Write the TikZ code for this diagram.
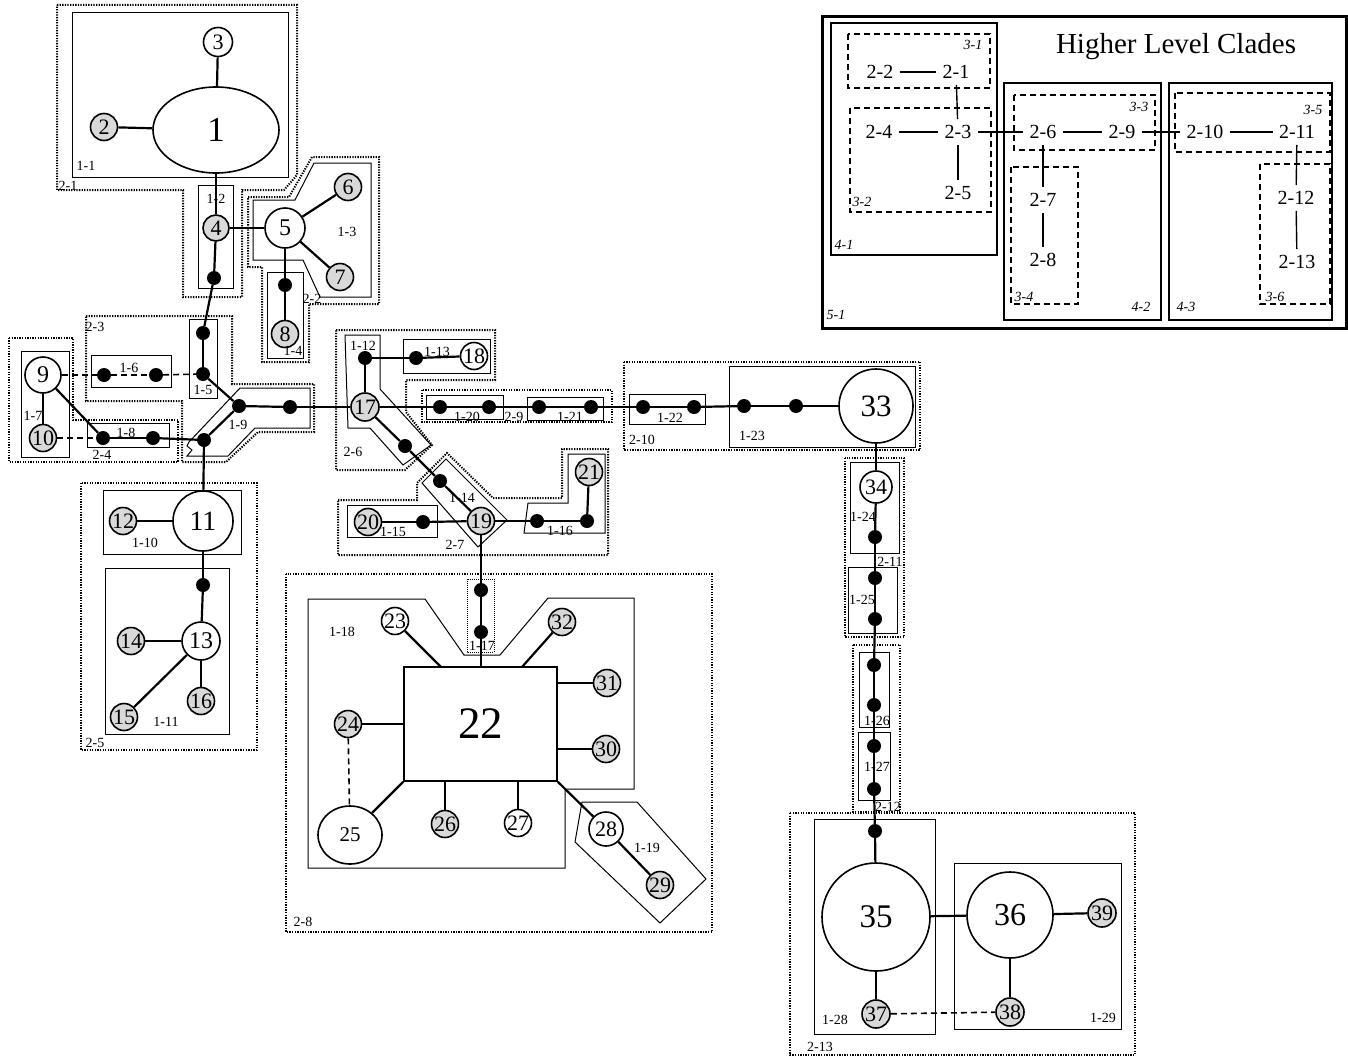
\documentclass[tikz,border=0pt]{standalone}
\usepackage{fontspec}
\setmainfont{Liberation Serif}
\usetikzlibrary{shapes.geometric}
\begin{document}
\begin{tikzpicture}[x=1pt,y=-1pt,
  hap/.style={circle,draw,line width=1.6pt,inner sep=0pt,fill=white,font=\fontsize{22}{22}\selectfont},
  sm/.style={hap,minimum size=27pt},
  gr/.style={fill=gray!30},
  snp/.style={circle,fill=black,inner sep=0pt,minimum size=14pt},
  cn/.style={line width=2.2pt},
  dcn/.style={line width=1.6pt,dash pattern=on 6pt off 4pt},
  cbox/.style={draw,line width=1pt},
  dbox/.style={draw,line width=2pt,dash pattern=on 1.3pt off 1.3pt},
  lab/.style={inner sep=0pt,font=\fontsize{14}{14}\selectfont},
  ilab/.style={inner sep=0pt,font=\fontsize{14}{14}\selectfont\itshape},
  ins/.style={inner sep=6pt,font=\fontsize{20}{20}\selectfont},
  ibox/.style={draw,line width=1.5pt},
  idbox/.style={draw,line width=1.5pt,dash pattern=on 6pt off 4pt},
  icn/.style={line width=1.4pt}
]
\useasboundingbox (0,0) rectangle (1348,1057);
\fill[white] (0,0) rectangle (1348,1057);

% ---------- 2-step (dotted) clades ----------
\draw[dbox] (57,5) -- (297,5) -- (297,175) -- (284,190) -- (242,190) -- (242,297) -- (183,297) -- (183,190) -- (57,190) -- cycle;
\draw[dbox] (248,197) -- (289,197) -- (312,157) -- (379,157) -- (379,304) -- (309,304) -- (309,362) -- (262,362) -- (262,267) -- (248,267) -- cycle;
\draw[dbox] (86,316) -- (232,316) -- (232,384) -- (314,384) -- (314,432) -- (258,432) -- (226,462) -- (182,462) -- (182,401) -- (86,401) -- cycle;
\draw[dbox] (9,338) -- (73,338) -- (73,420) -- (178,420) -- (178,462) -- (9,462) -- cycle;
\draw[dbox] (81,483) rectangle (257,750);
\draw[dbox] (336,330) -- (495,330) -- (495,380) -- (406,380) -- (406,412) -- (432,445) -- (405,470) -- (336,470) -- cycle;
\draw[dbox] (338,500) -- (417,500) -- (417,483) -- (447,453) -- (493,498) -- (562,498) -- (562,449) -- (608,449) -- (608,555) -- (338,555) -- cycle;
\draw[dbox] (286,574) rectangle (712,932);
\draw[dbox] (422,390) rectangle (612,422);
\draw[dbox] (624,362) rectangle (920,450);
\draw[dbox] (845,458) rectangle (904,637);
\draw[dbox] (853,645) rectangle (900,812);
\draw[dbox] (790,813) rectangle (1135,1055);

% ---------- 1-step (solid) clades ----------
\draw[cbox] (72,13) rectangle (288,177);
\draw[cbox] (198,185) rectangle (233,288);
\draw[cbox] (253,200) -- (295,200) -- (314,163) -- (371,163) -- (371,297) -- (320,297) -- (303,260) -- (253,260) -- cycle;
\draw[cbox] (267,272) rectangle (303,358);
\draw[cbox] (189,319) rectangle (217,398);
\draw[cbox] (91,355) rectangle (171,387);
\draw[cbox] (21,351) rectangle (69,457);
\draw[cbox] (87,423) rectangle (169,447);
\draw[cbox] (240,388) -- (310,388) -- (310,428) -- (255,428) -- (228,456) -- (187,456) -- (192,450) -- (187,446) -- (189,442) -- cycle;
\draw[cbox] (103,490) rectangle (241,554);
\draw[cbox] (105,568) rectangle (229,734);
\draw[cbox] (345,335) -- (380,335) -- (380,389) -- (431,445) -- (403,465) -- (370,428) -- (348,428) -- cycle;
\draw[cbox] (403,339) rectangle (490,373);
\draw[cbox] (422,483) -- (446,459) -- (507,520) -- (478,547) -- cycle;
\draw[cbox] (347,505) rectangle (437,537);
\draw[cbox] (528,503) -- (568,503) -- (568,454) -- (605,454) -- (605,533) -- (524,533) -- cycle;
\draw[line width=1pt,dash pattern=on 1pt off 1pt] (467,579) rectangle (494,652);
\draw[cbox] (308,599) -- (425,599) -- (464,655) -- (500,655) -- (548,598) -- (634,598) -- (634,789) -- (565,789) -- (565,868) -- (308,868) -- cycle;
\draw[cbox] (582,802) -- (637,802) -- (706,879) -- (660,923) -- (575,842) -- cycle;
\draw[cbox] (426,395) rectangle (503,419);
\draw[cbox] (527,397) rectangle (603,420);
\draw[cbox] (629,394) rectangle (705,424);
\draw[cbox] (729,366) rectangle (915,447);
\draw[cbox] (850,462) rectangle (899,553);
\draw[cbox] (848,567) rectangle (897,633);
\draw[cbox] (859,652) rectangle (889,727);
\draw[cbox] (858,732) rectangle (890,800);
\draw[cbox] (814,819) rectangle (935,1034);
\draw[cbox] (954,863) rectangle (1121,1029);

% ---------- haplotypes ----------
\node[ellipse,draw,line width=1.6pt,inner sep=0pt,minimum width=126pt,minimum height=86pt,fill=white,font=\fontsize{35}{35}\selectfont] (n1) at (216,130) {1};
\node[sm,gr] (n2) at (104,127) {2};
\node[sm,minimum size=29pt] (n3) at (218,42) {3};
\node[sm,gr,minimum size=26pt] (n4) at (216,228) {4};
\node[hap,minimum size=40pt,font=\fontsize{24}{24}\selectfont] (n5) at (285,228) {5};
\node[sm,gr] (n6) at (348,187) {6};
\node[sm,gr] (n7) at (340,277) {7};
\node[sm,gr] (n8) at (285,334) {8};
\node[hap,minimum size=36pt,font=\fontsize{24}{24}\selectfont] (n9) at (43,375) {9};
\node[sm,gr] (n10) at (43,438) {10};
\node[hap,minimum size=60pt,font=\fontsize{28}{28}\selectfont] (n11) at (203,521) {11};
\node[sm,gr] (n12) at (123,521) {12};
\node[hap,minimum size=38pt,font=\fontsize{24}{24}\selectfont] (n13) at (201,641) {13};
\node[sm,gr] (n14) at (131,641) {14};
\node[sm,gr] (n15) at (124,717) {15};
\node[sm,gr] (n16) at (201,701) {16};
\node[sm,gr,minimum size=28pt] (n17) at (365,407) {17};
\node[sm] (n18) at (474,356) {18};
\node[sm,gr] (n19) at (481,521) {19};
\node[sm,gr] (n20) at (368,522) {20};
\node[sm,gr] (n21) at (589,472) {21};
\node[draw,rectangle,line width=1.6pt,minimum width=153pt,minimum height=114pt,fill=white,font=\fontsize{45}{45}\selectfont] (n22) at (480.5,724) {22};
\node[sm] (n23) at (395,621) {23};
\node[sm,gr] (n24) at (348,724) {24};
\node[ellipse,draw,line width=1.6pt,inner sep=0pt,minimum width=64pt,minimum height=58pt,fill=white,font=\fontsize{21}{21}\selectfont] (n25) at (350,835) {25};
\node[sm,gr] (n26) at (445,824) {26};
\node[sm] (n27) at (518,823) {27};
\node[hap,minimum size=34pt] (n28) at (606,829) {28};
\node[sm,gr] (n29) at (660,885) {29};
\node[sm,gr] (n30) at (606,749) {30};
\node[sm,gr] (n31) at (607,683) {31};
\node[sm,gr] (n32) at (562,622) {32};
\node[hap,minimum size=74pt,font=\fontsize{31}{31}\selectfont] (n33) at (876,406) {33};
\node[hap,minimum size=32pt] (n34) at (876,487) {34};
\node[hap,minimum size=108pt,font=\fontsize{33}{33}\selectfont] (n35) at (876,917) {35};
\node[hap,minimum size=86pt,font=\fontsize{32}{32}\selectfont] (n36) at (1010,915) {36};
\node[sm,gr,minimum size=28pt] (n37) at (876,1014) {37};
\node[sm,gr,minimum size=28pt] (n38) at (1010,1012) {38};
\node[sm,gr,minimum size=28pt] (n39) at (1102,913) {39};

% ---------- missing intermediates ----------
\node[snp] (d1) at (214,278) {};
\node[snp] (d2) at (203,333) {};
\node[snp] (d3) at (203,374) {};
\node[snp] (d4) at (239,406) {};
\node[snp] (d5) at (290,407) {};
\node[snp] (d6) at (204,440) {};
\node[snp] (d7) at (285,285) {};
\node[snp] (d8) at (104,375) {};
\node[snp] (d9) at (156,375) {};
\node[snp] (d10) at (103,438) {};
\node[snp] (d11) at (153,438) {};
\node[snp] (d12) at (203,585) {};
\node[snp] (d13) at (365,358) {};
\node[snp] (d14) at (416,358) {};
\node[snp] (d15) at (405,446) {};
\node[snp] (d16) at (440,481) {};
\node[snp] (d17) at (423,522) {};
\node[snp] (d18) at (537,521) {};
\node[snp] (d19) at (587,521) {};
\node[snp] (d20) at (440,407) {};
\node[snp] (d21) at (489,407) {};
\node[snp] (d22) at (539,407) {};
\node[snp] (d23) at (591,407) {};
\node[snp] (d24) at (643,407) {};
\node[snp] (d25) at (694,407) {};
\node[snp] (d26) at (744,406) {};
\node[snp] (d27) at (796,406) {};
\node[snp] (d28) at (875,537) {};
\node[snp] (d29) at (875,578) {};
\node[snp] (d30) at (875,619) {};
\node[snp] (d31) at (874,665) {};
\node[snp] (d32) at (874,705) {};
\node[snp] (d33) at (874,746) {};
\node[snp] (d34) at (874,789) {};
\node[snp] (d35) at (875,831) {};
\node[snp] (d36) at (481,590) {};
\node[snp] (d37) at (481,632) {};

% ---------- connectors ----------
\draw[cn] (n1) -- (n2);
\draw[cn] (n1) -- (n3);
\draw[cn] (n1) -- (n4);
\draw[cn] (n4) -- (n5);
\draw[cn] (n4) -- (d1);
\draw[cn] (d1) -- (d2);
\draw[cn] (d2) -- (d3);
\draw[cn] (d3) -- (d4);
\draw[cn] (d4) -- (d5);
\draw[cn] (d5) -- (n17);
\draw[cn] (d4) -- (d6);
\draw[cn] (d6) -- (n11);
\draw[cn] (n5) -- (n6);
\draw[cn] (n5) -- (n7);
\draw[cn] (n5) -- (d7);
\draw[cn] (d7) -- (n8);
\draw[cn] (n9) -- (n10);
\draw[cn] (n9) -- (d10);
\draw[cn] (d10) -- (d11);
\draw[cn] (d11) -- (d6);
\draw[dcn] (n10) -- (d10);
\draw[dcn] (n9) -- (d8);
\draw[dcn] (d8) -- (d9);
\draw[dcn] (d9) -- (d3);
\draw[cn] (n11) -- (n12);
\draw[cn] (n11) -- (d12);
\draw[cn] (d12) -- (n13);
\draw[cn] (n13) -- (n14);
\draw[cn] (n13) -- (n15);
\draw[cn] (n13) -- (n16);
\draw[cn] (n17) -- (d13);
\draw[cn] (d13) -- (d14);
\draw[cn] (d14) -- (n18);
\draw[cn] (n17) -- (d15);
\draw[cn] (d15) -- (d16);
\draw[cn] (d16) -- (n19);
\draw[cn] (n20) -- (d17);
\draw[cn] (d17) -- (n19);
\draw[cn] (n19) -- (d18);
\draw[cn] (d18) -- (d19);
\draw[cn] (d19) -- (n21);
\draw[cn] (n19) -- (d36);
\draw[cn] (d36) -- (d37);
\draw[cn] (d37) -- (n22.north -| d37);
\draw[cn] (n17) -- (d20);
\draw[cn] (d20) -- (d21);
\draw[cn] (d21) -- (d22);
\draw[cn] (d22) -- (d23);
\draw[cn] (d23) -- (d24);
\draw[cn] (d24) -- (d25);
\draw[cn] (d25) -- (d26);
\draw[cn] (d26) -- (d27);
\draw[cn] (d27) -- (n33);
\draw[cn] (n33) -- (n34);
\draw[cn] (n34) -- (d28);
\draw[cn] (d28) -- (d29);
\draw[cn] (d29) -- (d30);
\draw[cn] (d30) -- (d31);
\draw[cn] (d31) -- (d32);
\draw[cn] (d32) -- (d33);
\draw[cn] (d33) -- (d34);
\draw[cn] (d34) -- (d35);
\draw[cn] (d35) -- (n35);
\draw[cn] (n35) -- (n36);
\draw[cn] (n36) -- (n39);
\draw[cn] (n36) -- (n38);
\draw[cn] (n35) -- (n37);
\draw[dcn] (n37) -- (n38);
\coordinate (t23) at (441,667);
\coordinate (t32) at (522,667);
\draw[cn] (n23) -- (t23);
\draw[cn] (n32) -- (t32);
\draw[cn] (n22.east |- n31) -- (n31);
\draw[cn] (n22.east |- n30) -- (n30);
\draw[cn] (n22.west |- n24) -- (n24);
\draw[dcn] (n24) -- (n25);
\draw[cn] (n22.south west) -- (n25);
\draw[cn] (n22.south -| n26) -- (n26);
\draw[cn] (n22.south -| n27) -- (n27);
\draw[cn] (n22.south east) -- (n28);
\draw[cn] (n28) -- (n29);

% ---------- clade labels ----------
\node[lab] (l11) at (86,166) {1-1};
\node[lab] (l12) at (216,199) {1-2};
\node[lab] (l13) at (347,232) {1-3};
\node[lab] (l14) at (293,351) {1-4};
\node[lab] (l15) at (203,390) {1-5};
\node[lab] (l16) at (129,368) {1-6};
\node[lab] (l17) at (33,416) {1-7};
\node[lab] (l18) at (126,433) {1-8};
\node[lab] (l19) at (238,425) {1-9};
\node[lab] (l110) at (145,543) {1-10};
\node[lab] (l111) at (166,722) {1-11};
\node[lab] (l112) at (363,346) {1-12};
\node[lab] (l113) at (437,352) {1-13};
\node[lab] (l114) at (462,498) {1-14};
\node[lab] (l115) at (393,532) {1-15};
\node[lab] (l116) at (560,531) {1-16};
\node[lab] (l117) at (482,646) {1-17};
\node[lab] (l118) at (342,632) {1-18};
\node[lab] (l119) at (647,848) {1-19};
\node[lab] (l120) at (467,417) {1-20};
\node[lab] (l121) at (570,417) {1-21};
\node[lab] (l122) at (670,418) {1-22};
\node[lab] (l123) at (752,436) {1-23};
\node[lab] (l124) at (863,517) {1-24};
\node[lab] (l125) at (862,600) {1-25};
\node[lab] (l126) at (877,721) {1-26};
\node[lab] (l127) at (877,767) {1-27};
\node[lab] (l128) at (835,1020) {1-28};
\node[lab] (l129) at (1103,1018) {1-29};
\node[lab] (l21) at (68,186) {2-1};
\node[lab] (l22) at (312,299) {2-2};
\node[lab] (l23) at (95,327) {2-3};
\node[lab] (l24) at (102,455) {2-4};
\node[lab] (l25) at (95,743) {2-5};
\node[lab] (l26) at (353,452) {2-6};
\node[lab] (l27) at (455,545) {2-7};
\node[lab] (l28) at (303,922) {2-8};
\node[lab] (l29) at (514,417) {2-9};
\node[lab] (l210) at (642,440) {2-10};
\node[lab] (l211) at (890,562) {2-11};
\node[lab] (l212) at (888,807) {2-12};
\node[lab] (l213) at (820,1047) {2-13};

% ---------- inset: higher level clades ----------
\draw[line width=3pt] (822,17) rectangle (1346,328);
\draw[ibox] (831,23) rectangle (997,255);
\draw[ibox] (1004,83) rectangle (1161,320);
\draw[ibox] (1169,83) rectangle (1332,320);
\draw[idbox] (848,34) rectangle (990,88);
\draw[idbox] (850,108) rectangle (991,212);
\draw[idbox] (1014,95) rectangle (1155,150);
\draw[idbox] (1011,167) rectangle (1078,304);
\draw[idbox] (1175,93) rectangle (1330,152);
\draw[idbox] (1260,164) rectangle (1330,304);
\node[inner sep=0pt,font=\fontsize{29}{29}\selectfont] (title) at (1176,47) {Higher Level Clades};
\node[ins] (i22) at (880,72) {2-2};
\node[ins] (i21) at (956,72) {2-1};
\node[ins] (i24) at (879,132) {2-4};
\node[ins] (i23) at (958,132) {2-3};
\node[ins] (i25) at (958,193) {2-5};
\node[ins] (i26) at (1043,132) {2-6};
\node[ins] (i29) at (1122,132) {2-9};
\node[ins] (i27) at (1043,200) {2-7};
\node[ins] (i28) at (1043,260) {2-8};
\node[ins] (i210) at (1205,132) {2-10};
\node[ins] (i211) at (1297,132) {2-11};
\node[ins] (i212) at (1296,198) {2-12};
\node[ins] (i213) at (1297,262) {2-13};
\draw[icn] (i22) -- (i21);
\draw[icn] (i21) -- (i23);
\draw[icn] (i24) -- (i23);
\draw[icn] (i23) -- (i25);
\draw[icn] (i23) -- (i26);
\draw[icn] (i26) -- (i29);
\draw[icn] (i26) -- (i27);
\draw[icn] (i27) -- (i28);
\draw[icn] (i29) -- (i210);
\draw[icn] (i210) -- (i211);
\draw[icn] (i211) -- (i212);
\draw[icn] (i212) -- (i213);
\node[ilab] (k31) at (973,45) {3-1};
\node[ilab] (k32) at (862,202) {3-2};
\node[ilab] (k33) at (1139,107) {3-3};
\node[ilab] (k34) at (1024,297) {3-4};
\node[ilab] (k35) at (1313,110) {3-5};
\node[ilab] (k36) at (1275,297) {3-6};
\node[ilab] (k41) at (844,245) {4-1};
\node[ilab] (k42) at (1141,307) {4-2};
\node[ilab] (k43) at (1186,307) {4-3};
\node[ilab] (k51) at (836,315) {5-1};
\end{tikzpicture}
\end{document}
